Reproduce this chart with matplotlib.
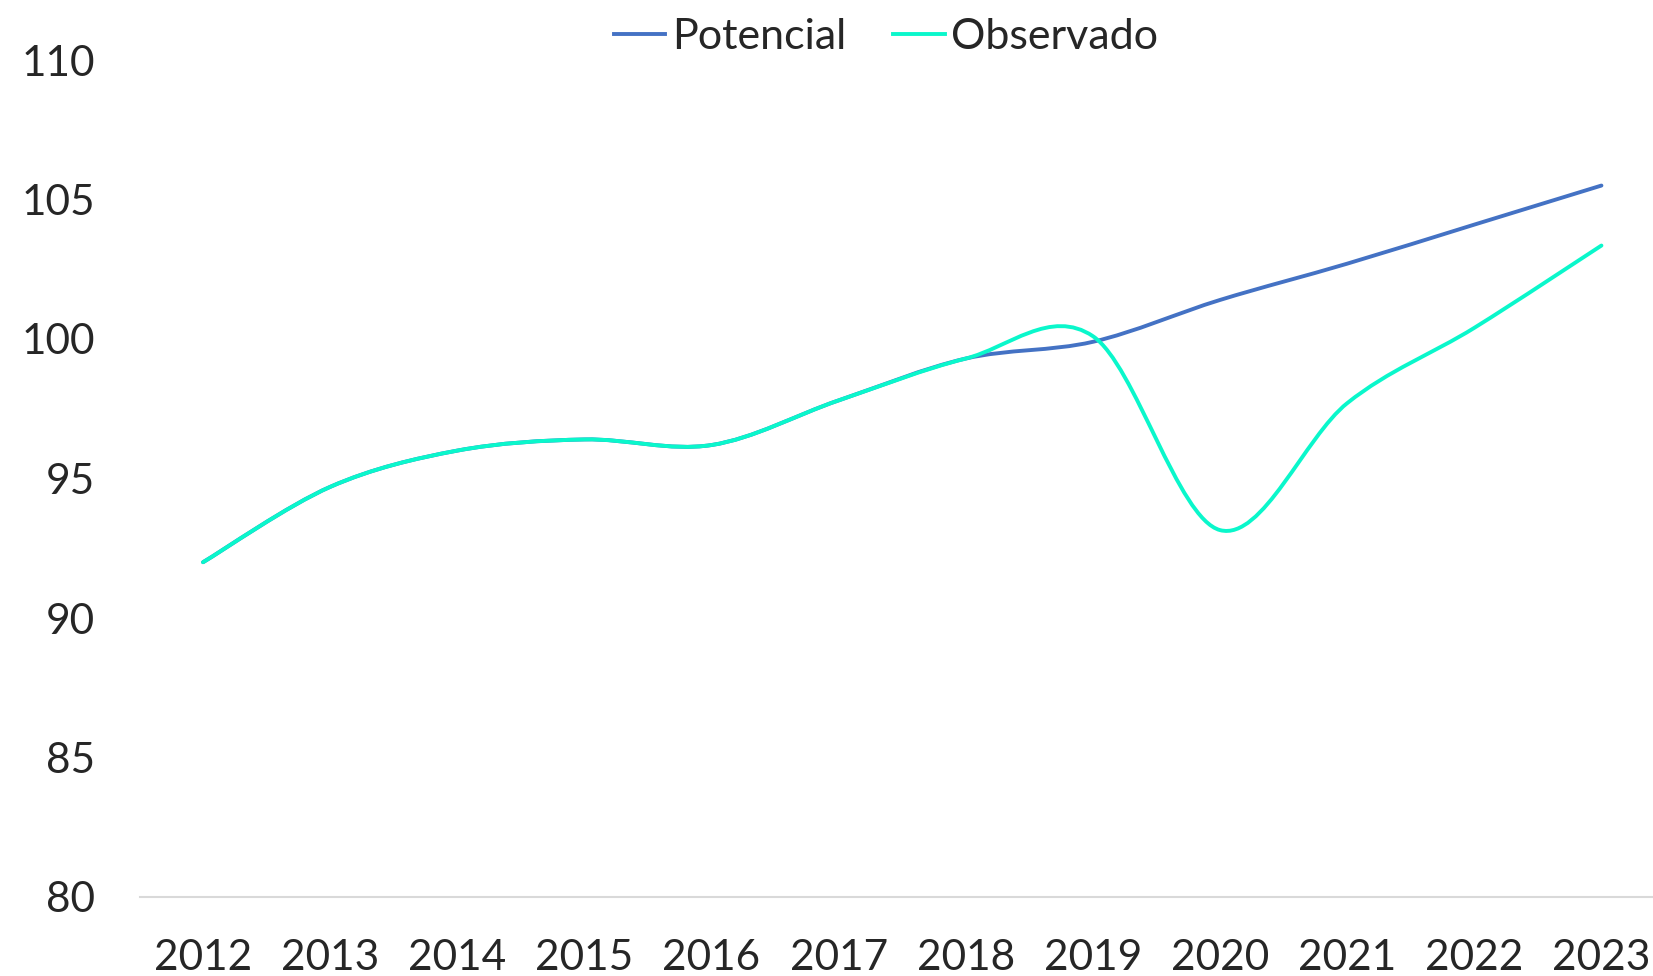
import numpy as np
import matplotlib
matplotlib.use("Agg")
import matplotlib.pyplot as plt
from matplotlib.path import Path
from matplotlib.patches import PathPatch
from matplotlib.lines import Line2D

plt.rcParams["font.family"] = ["Lato", "DejaVu Sans"]

YEARS = ["2012", "2013", "2014", "2015", "2016", "2017",
         "2018", "2019", "2020", "2021", "2022", "2023"]
POTENCIAL = [92.0, 94.7, 96.0, 96.4, 96.2, 97.8,
             99.3, 99.9, 101.4, 102.7, 104.1, 105.5]
OBSERVADO = [92.0, 94.7, 96.0, 96.4, 96.2, 97.8,
             99.3, 100.1, 93.15, 97.7, 100.4, 103.35]
Y_TICKS = [80, 85, 90, 95, 100, 105, 110]

BLUE = "#4472C4"
AQUA = "#0AF7CB"
TEXT = "#262626"


def smooth_path(xs, ys):
    # Bezier curve through every point, tangents from neighbours (like a smoothed spreadsheet line)
    pts = np.column_stack([xs, ys]).astype(float)
    n = len(pts)
    verts = [pts[0]]
    codes = [Path.MOVETO]
    for i in range(n - 1):
        p0 = pts[i - 1] if i > 0 else pts[i]
        p1 = pts[i]
        p2 = pts[i + 1]
        p3 = pts[i + 2] if i + 2 < n else pts[i + 1]
        c1 = p1 + (p2 - p0) / 6.0
        c2 = p2 - (p3 - p1) / 6.0
        verts += [c1, c2, p2]
        codes += [Path.CURVE4] * 3
    return Path(verts, codes)


fig = plt.figure(figsize=(16.53, 9.76), dpi=100)
ax = fig.add_axes([139.5 / 1653, 79 / 976, 1525.5 / 1653, 837 / 976])

x = np.arange(len(YEARS))
for vals, color in [(POTENCIAL, BLUE), (OBSERVADO, AQUA)]:
    ax.add_patch(PathPatch(smooth_path(x, vals), fill=False, edgecolor=color,
                           lw=2.8, capstyle="round", joinstyle="round"))

ax.set_xlim(-0.5, len(YEARS) - 0.5)
ax.set_ylim(80, 110)
ax.set_xticks(x)
ax.set_xticklabels(YEARS)
ax.set_yticks(Y_TICKS)
ax.tick_params(axis="both", length=0, labelsize=30.5, labelcolor=TEXT)
ax.tick_params(axis="y", pad=32)
ax.tick_params(axis="x", pad=30)

for side in ["left", "right", "top"]:
    ax.spines[side].set_visible(False)
ax.spines["bottom"].set_color("#D9D9D9")
ax.spines["bottom"].set_linewidth(1.5)

handles = [Line2D([], [], color=BLUE, lw=2.8), Line2D([], [], color=AQUA, lw=2.8)]
fig.legend(handles, ["Potencial", "Observado"], loc="center",
           bbox_to_anchor=(886 / 1653, 1 - 37 / 976),
           ncol=2, frameon=False, fontsize=31, handlelength=1.2, handletextpad=0.15,
           columnspacing=1.1, labelcolor=TEXT)

fig.savefig("out.png", dpi=100)
